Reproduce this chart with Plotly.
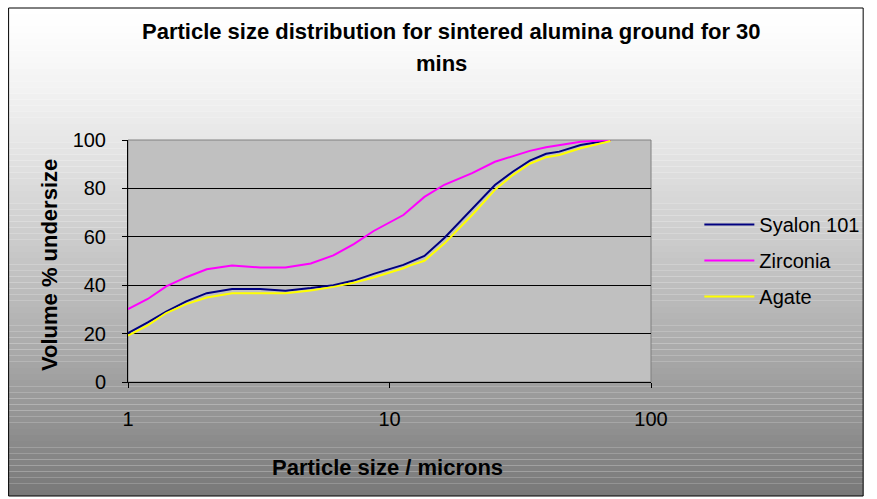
import plotly.graph_objects as go

# ---- data ----
size_um = [1.0, 1.19, 1.40, 1.67, 2.0, 2.5, 3.2, 4.0, 5.0, 6.1, 7.3, 8.7, 11.3, 12.1,
           13.6, 16.2, 20.7, 25.3, 29.6, 34.4, 39.7, 44.6, 53.8, 70.0]
syalon = [20.2, 24.6, 29.1, 33.3, 36.7, 38.4, 38.4, 37.7, 38.8, 40.0, 41.9, 44.7, 48.4, 49.8,
          52.1, 59.5, 71.5, 81.4, 86.9, 91.5, 94.3, 95.2, 97.9, 100.0]
zirconia = [30.1, 34.3, 39.5, 43.3, 46.6, 48.1, 47.3, 47.3, 49.0, 52.3, 57.0, 62.4, 69.0, 71.8,
            76.5, 81.5, 86.3, 91.0, 93.4, 95.5, 97.0, 97.9, 99.3, 100.0]
agate = [19.2, 23.4, 28.5, 32.2, 34.9, 36.7, 36.7, 36.7, 37.8, 39.3, 41.0, 43.2, 47.0, 48.3,
         50.1, 57.2, 69.0, 79.4, 85.5, 90.2, 92.9, 93.8, 96.6, 99.6]
series_names = ["Syalon 101", "Zirconia", "Agate"]
series_colors = ["#000080", "#FF00FF", "#FFFF00"]
x_ticks = [1, 10, 100]
y_ticks = [0, 20, 40, 60, 80, 100]

W, H = 877, 499
L, R, T, B = 128, 658, 140, 382  # plot area in pixels


def px(xp):
    return (xp - L) / (R - L)


def py(yp):
    return (B - yp) / (B - T)


fig = go.Figure()
for name, vals, col in zip(series_names, [syalon, zirconia, agate], series_colors):
    fig.add_trace(go.Scatter(x=size_um, y=vals, mode="lines", name=name,
                             legendgroup=name,
                             line=dict(color=col, width=2)))

shapes = []
# gradient background inside the outer border
x0b, x1b, y0b, y1b = 7, 873, 8, 496
n = 80
for i in range(n):
    ya = y0b + (y1b - y0b) * i / n
    yb = y0b + (y1b - y0b) * (i + 1) / n
    t = (i + 0.5) / n
    v = int(round(255 - 135 * t ** 1.3))
    c = f"rgb({v},{v},{v})"
    shapes.append(dict(type="rect", xref="paper", yref="paper", layer="below",
                       x0=px(x0b), x1=px(x1b), y0=py(yb), y1=py(ya),
                       fillcolor=c, line=dict(width=0)))
# plot area
shapes.append(dict(type="rect", xref="paper", yref="paper", layer="below",
                   x0=0, x1=1, y0=0, y1=1, fillcolor="#C0C0C0",
                   line=dict(color="#808080", width=1)))
# outer border
shapes.append(dict(type="rect", xref="paper", yref="paper", layer="above",
                   x0=px(x0b), x1=px(x1b), y0=py(y1b), y1=py(y0b),
                   fillcolor="rgba(0,0,0,0)", line=dict(color="#000000", width=1)))

font_family = "Liberation Sans, Arial, sans-serif"
bold = dict(size=22, color="#000000", family=font_family)
annotations = [
    dict(text="<b>Particle size distribution for sintered alumina ground for 30</b>",
         xref="paper", yref="paper", x=px(456), y=py(32), showarrow=False,
         xanchor="center", yanchor="middle", font=bold),
    dict(text="<b>mins</b>",
         xref="paper", yref="paper", x=px(446), y=py(64), showarrow=False,
         xanchor="center", yanchor="middle", font=bold),
    dict(text="<b>Particle size / microns</b>",
         xref="paper", yref="paper", x=px(391), y=py(467), showarrow=False,
         xanchor="center", yanchor="middle", font=bold),
    dict(text="<b>Volume % undersize</b>", textangle=-90,
         xref="paper", yref="paper", x=px(48), y=py(265), showarrow=False,
         xanchor="center", yanchor="middle", font=bold),
]

fig.update_layout(
    width=W, height=H,
    margin=dict(l=L, r=W - R, t=T, b=H - B, pad=0),
    paper_bgcolor="#FFFFFF",
    plot_bgcolor="rgba(0,0,0,0)",
    font=dict(family=font_family, size=20, color="#000000"),
    shapes=shapes,
    annotations=annotations,
    showlegend=True,
    legend=dict(x=px(707), y=py(205), xanchor="left", yanchor="top",
                bgcolor="rgba(0,0,0,0)", borderwidth=0,
                tracegroupgap=7, traceorder="grouped", itemwidth=50,
                font=dict(size=20, family=font_family, color="#000000")),
)
fig.update_xaxes(type="log", range=[0, 2], tickvals=x_ticks, ticktext=[str(v) for v in x_ticks],
                 showgrid=False, zeroline=False, showline=True, linecolor="#000000",
                 linewidth=1, ticks="outside", ticklen=5, tickcolor="#000000",
                 ticklabelstandoff=14)
fig.update_yaxes(range=[0, 100], tickvals=y_ticks, showgrid=True, gridcolor="#000000",
                 gridwidth=1, zeroline=False, showline=True, linecolor="#000000",
                 linewidth=1, ticks="outside", ticklen=5, tickcolor="#000000",
                 ticklabelstandoff=12)

fig.write_html("out.html", config={"displayModeBar": False},
               post_script="document.body.style.margin='0';")
